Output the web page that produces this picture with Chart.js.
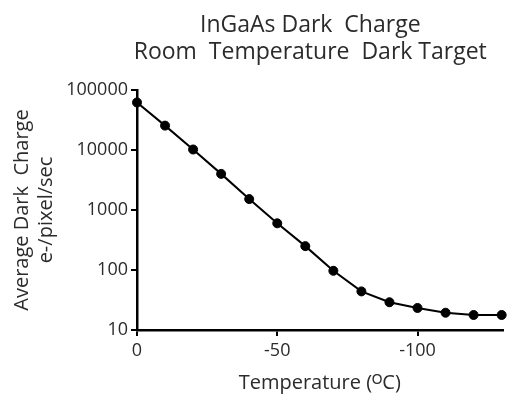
<!DOCTYPE html>
<html>
<head>
<meta charset="utf-8">
<script src="https://cdn.jsdelivr.net/npm/chart.js@4"></script>
<style>
html,body{margin:0;padding:0;background:#fff;}
#wrap{width:508px;height:395px;position:relative;}
</style>
</head>
<body>
<div id="wrap"><canvas id="c" width="508" height="395"></canvas></div>
<script>
const temperatures = [0, -10, -20, -30, -40, -50, -60, -70, -80, -90, -100, -110, -120, -130];
const darkCharge = [62000, 25500, 10200, 4000, 1520, 600, 250, 97, 44, 29, 23.3, 19.4, 17.8, 17.8];
const yTickValues = [10, 100, 1000, 10000, 100000];
const xTickValues = [0, -50, -100];
const titleLines = ["InGaAs Dark  Charge", "Room  Temperature  Dark Target"];
const yTitleLines = ["Average Dark  Charge", "e-/pixel/sec"];
const xTitle = "Temperature (\u1D3CC)";

const FONT = "'Open Sans', sans-serif";
const TXT = '#2b2b2b';

// shift the centred title block so it sits where the reference places it
const titleShift = {
  id: 'titleShift',
  afterLayout(chart) {
    const t = chart.titleBlock;
    if (t) { t.left = 110; t.width = t.right - t.left; }
  }
};

new Chart(document.getElementById('c'), {
  type: 'scatter',
  data: {
    datasets: [{
      data: temperatures.map((t, i) => ({x: t, y: darkCharge[i]})),
      showLine: true,
      borderColor: '#000',
      backgroundColor: '#000',
      borderWidth: 2,
      pointRadius: 4.5,
      pointBorderWidth: 1,
      pointHoverRadius: 4.5,
      clip: false
    }]
  },
  plugins: [titleShift],
  options: {
    responsive: false,
    animation: false,
    events: [],
    layout: {padding: {left: 0, right: -2.5, top: 0, bottom: 0}},
    plugins: {
      legend: {display: false},
      tooltip: {enabled: false},
      title: {
        display: true,
        text: titleLines,
        color: TXT,
        font: {family: FONT, size: 23, weight: 'normal', lineHeight: 1.174},
        padding: {top: 11.5, bottom: 24.5}
      }
    },
    scales: {
      x: {
        type: 'linear',
        reverse: true,
        min: -130.3,
        max: 0,
        afterBuildTicks: (s) => { s.ticks = xTickValues.map(v => ({value: v})); },
        afterFit: (s) => { s.height = 65; },
        ticks: {color: TXT, font: {family: FONT, size: 18}, padding: 4, autoSkip: false, maxRotation: 0},
        grid: {display: true, drawOnChartArea: false, tickLength: 6, color: '#000', lineWidth: 2},
        border: {display: true, color: '#000', width: 2.5},
        title: {display: true, text: xTitle, color: TXT, font: {family: FONT, size: 20, lineHeight: 1.2}, padding: {top: 0, bottom: 0}}
      },
      y: {
        type: 'logarithmic',
        min: 10,
        max: 100000,
        afterBuildTicks: (s) => { s.ticks = yTickValues.map(v => ({value: v})); },
        afterFit: (s) => { s.width = 137; },
        ticks: {color: TXT, font: {family: FONT, size: 18}, padding: 3, autoSkip: false,
                callback: (v) => String(v)},
        grid: {display: true, drawOnChartArea: false, tickLength: 6, color: '#000', lineWidth: 2},
        border: {display: true, color: '#000', width: 2.5},
        title: {display: true, text: yTitleLines, color: TXT, font: {family: FONT, size: 20, lineHeight: 1.2}, padding: {top: 10, bottom: 0}}
      }
    }
  }
});
</script>
</body>
</html>
